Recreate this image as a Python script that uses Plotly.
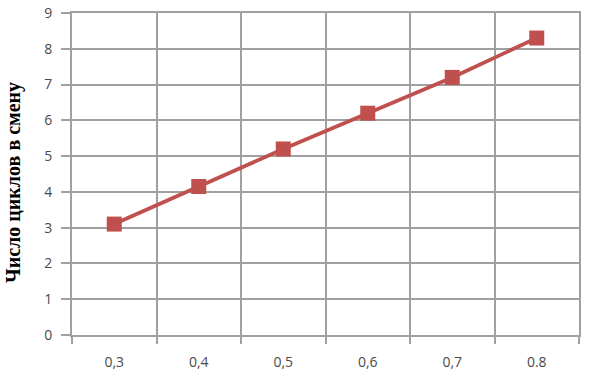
import plotly.graph_objects as go

categories = ["0,3", "0,4", "0,5", "0,6", "0,7", "0.8"]
cycles = [3.1, 4.15, 5.2, 6.2, 7.2, 8.3]
y_ticks = [0, 1, 2, 3, 4, 5, 6, 7, 8, 9]
y_title = "Число циклов в смену"

RED = "#C0504D"
GRID = "#a0a0a0"
TICKFONT = dict(family="Open Sans, Liberation Sans, sans-serif", size=14, color="#4a4a4a")

W, H = 608, 384
L, R, T, B = 72, 29, 13, 49
pw = W - L - R
ph = H - T - B

fig = go.Figure()
fig.add_trace(go.Scatter(
    x=categories, y=cycles, mode="lines+markers",
    line=dict(color=RED, width=3.8),
    marker=dict(symbol="square", size=15, color=RED),
    showlegend=False,
))

fig.update_layout(
    width=W, height=H,
    margin=dict(l=L, r=R, t=T, b=B, autoexpand=False),
    paper_bgcolor="white", plot_bgcolor="white",
    xaxis=dict(
        type="category", categoryorder="array", categoryarray=categories,
        range=[-0.5, 5.5], tickson="boundaries",
        showgrid=True, gridcolor=GRID, gridwidth=2,
        showline=True, linecolor=GRID, linewidth=2, mirror=True,
        ticks="outside", ticklen=7, tickcolor=GRID, tickwidth=2,
        tickfont=TICKFONT, ticklabelstandoff=13,
        zeroline=False, fixedrange=True,
    ),
    yaxis=dict(
        range=[0, 9], tickmode="array", tickvals=y_ticks,
        ticktext=[str(v) for v in y_ticks],
        showgrid=True, gridcolor=GRID, gridwidth=2,
        showline=True, linecolor=GRID, linewidth=2, mirror=True,
        ticks="outside", ticklen=9, tickcolor=GRID, tickwidth=2,
        tickfont=TICKFONT, ticklabelstandoff=6,
        zeroline=False, fixedrange=True,
    ),
    annotations=[dict(
        text="<b>" + y_title + "</b>",
        xref="paper", yref="paper",
        x=(13 - L) / pw, y=(335 - 183) / ph,
        xanchor="center", yanchor="middle",
        textangle=-90, showarrow=False,
        font=dict(family="Liberation Serif, Times New Roman, serif", size=20, color="black"),
    )],
)

fig.write_html(
    "out.html",
    config={"displayModeBar": False, "staticPlot": True},
    post_script="document.body.style.margin='0';document.body.style.overflow='hidden';",
)
